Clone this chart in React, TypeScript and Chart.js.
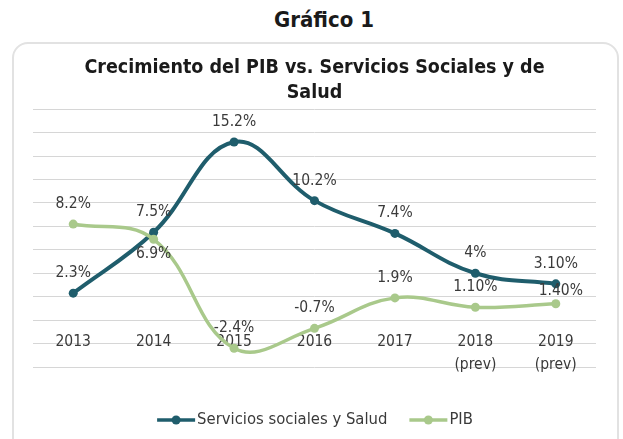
import React, { useEffect, useRef } from 'react';
import { Chart, registerables } from 'chart.js';

Chart.register(...registerables);

// ---- data ----
const categories: (string | string[])[] = ['2013', '2014', '2015', '2016', '2017', ['2018', '(prev)'], ['2019', '(prev)']];
const serviciosValues = [2.3, 7.5, 15.2, 10.2, 7.4, 4, 3.1];
const pibValues = [8.2, 6.9, -2.4, -0.7, 1.9, 1.1, 1.4];
const serviciosLabels = ['2.3%', '7.5%', '15.2%', '10.2%', '7.4%', '4%', '3.10%'];
const pibLabels = ['8.2%', '6.9%', '-2.4%', '-0.7%', '1.9%', '1.10%', '1.40%'];
const serviciosLabelPos = ['above', 'above', 'above', 'above', 'above', 'above', 'above'];
const pibLabelPos = ['above', 'below', 'above', 'above', 'above', 'above', 'aboveRight'];
const seriesNames = ['Servicios sociales y Salud', 'PIB'];
const heading = 'Gráfico 1';
const chartTitle = ['Crecimiento del PIB vs. Servicios Sociales y de', 'Salud'];
const yMin = -4;
const yMax = 18;
const yStep = 2;

const FONT = '"DejaVu Sans Condensed", "DejaVu Sans", sans-serif';
const TEAL = '#1f5d6c';
const GREEN = '#a9c98b';
const TEXT = '#3a3a3a';

const dataLabelPlugin = {
  id: 'dataLabelPlugin',
  afterDatasetsDraw(chart: any) {
    const ctx = chart.ctx;
    ctx.save();
    ctx.font = `15.5px ${FONT}`;
    ctx.fillStyle = TEXT;
    ctx.textAlign = 'center';
    ctx.textBaseline = 'middle';
    chart.data.datasets.forEach((ds: any, i: number) => {
      const meta = chart.getDatasetMeta(i);
      meta.data.forEach((pt: any, j: number) => {
        const pos = ds.labelPos[j];
        let dx = 0;
        let dy = -20;
        if (pos === 'below') dy = 15;
        if (pos === 'aboveRight') {
          dx = 5;
          dy = -13;
        }
        ctx.fillText(ds.dataLabels[j], pt.x + dx, pt.y + dy);
      });
    });
    ctx.restore();
  },
};

const legendPlugin = {
  id: 'customLegend',
  afterDraw(chart: any) {
    const ctx = chart.ctx;
    ctx.save();
    ctx.font = `16.5px ${FONT}`;
    ctx.textBaseline = 'middle';
    ctx.textAlign = 'left';
    const lineLen = 38;
    const gapText = 2;
    const gapItem = 22;
    const items = chart.data.datasets.map((ds: any) => ({
      label: ds.label,
      color: ds.borderColor,
      w: ctx.measureText(ds.label).width,
    }));
    const total = items.reduce((s: number, it: any) => s + lineLen + gapText + it.w, 0) + gapItem * (items.length - 1);
    let x = 315 - total / 2;
    const y = 420;
    items.forEach((it: any) => {
      ctx.strokeStyle = it.color;
      ctx.lineWidth = 3.5;
      ctx.beginPath();
      ctx.moveTo(x, y);
      ctx.lineTo(x + lineLen, y);
      ctx.stroke();
      ctx.fillStyle = it.color;
      ctx.beginPath();
      ctx.arc(x + lineLen / 2, y, 4.5, 0, Math.PI * 2);
      ctx.fill();
      ctx.fillStyle = TEXT;
      ctx.fillText(it.label, x + lineLen + gapText, y);
      x += lineLen + gapText + it.w + gapItem;
    });
    ctx.restore();
  },
};

export default function App() {
  const canvasRef = useRef<HTMLCanvasElement | null>(null);

  useEffect(() => {
    if (!canvasRef.current) return;
    const chart = new Chart(canvasRef.current, {
      type: 'line',
      data: {
        labels: categories,
        datasets: [
          {
            label: seriesNames[0],
            data: serviciosValues,
            borderColor: TEAL,
            backgroundColor: TEAL,
            borderWidth: 4,
            pointRadius: 4.5,
            pointBackgroundColor: TEAL,
            pointBorderWidth: 0,
            tension: 0.4,
            order: 1,
            dataLabels: serviciosLabels,
            labelPos: serviciosLabelPos,
          } as any,
          {
            label: seriesNames[1],
            data: pibValues,
            borderColor: GREEN,
            backgroundColor: GREEN,
            borderWidth: 3.5,
            pointRadius: 4.5,
            pointBackgroundColor: GREEN,
            pointBorderWidth: 0,
            tension: 0.4,
            order: 0,
            dataLabels: pibLabels,
            labelPos: pibLabelPos,
          } as any,
        ],
      },
      options: {
        animation: false,
        responsive: false,
        maintainAspectRatio: false,
        layout: { padding: { left: 33, right: 27, top: 0, bottom: 72 } },
        plugins: {
          legend: { display: false },
          tooltip: { enabled: false },
          title: {
            display: true,
            text: chartTitle,
            color: '#1a1a1a',
            font: { family: FONT, size: 19.5, weight: 'bold', lineHeight: 1.25 },
            padding: { top: 56, bottom: 4.5 },
          },
        },
        scales: {
          x: {
            type: 'category',
            position: { y: 0 } as any,
            offset: true,
            grid: { display: false, drawTicks: false },
            border: { display: false },
            ticks: {
              color: TEXT,
              font: { family: FONT, size: 15.5, lineHeight: 1.45 },
              padding: 11,
              maxRotation: 0,
              autoSkip: false,
            },
          },
          y: {
            min: yMin,
            max: yMax,
            grid: { color: '#d6d6d6', lineWidth: 1, drawTicks: false },
            border: { display: false },
            ticks: { display: false, stepSize: yStep },
          },
        },
      },
      plugins: [dataLabelPlugin, legendPlugin],
    });
    return () => chart.destroy();
  }, []);

  return (
    <div style={{ position: 'absolute', left: 0, top: 0, width: 623, height: 439, overflow: 'hidden', background: '#fff' }}>
      <div
        style={{
          position: 'absolute',
          left: 224,
          top: 8,
          width: 200,
          textAlign: 'center',
          fontFamily: FONT,
          fontWeight: 'bold',
          fontSize: 22,
          lineHeight: '24px',
          color: '#1a1a1a',
        }}
      >
        {heading}
      </div>
      <div
        style={{
          position: 'absolute',
          left: 12,
          top: 42,
          width: 603,
          height: 420,
          border: '2px solid #e2e2e2',
          borderRadius: 16,
        }}
      />
      <canvas ref={canvasRef} width={623} height={439} style={{ position: 'absolute', left: 0, top: 0 }} />
    </div>
  );
}
